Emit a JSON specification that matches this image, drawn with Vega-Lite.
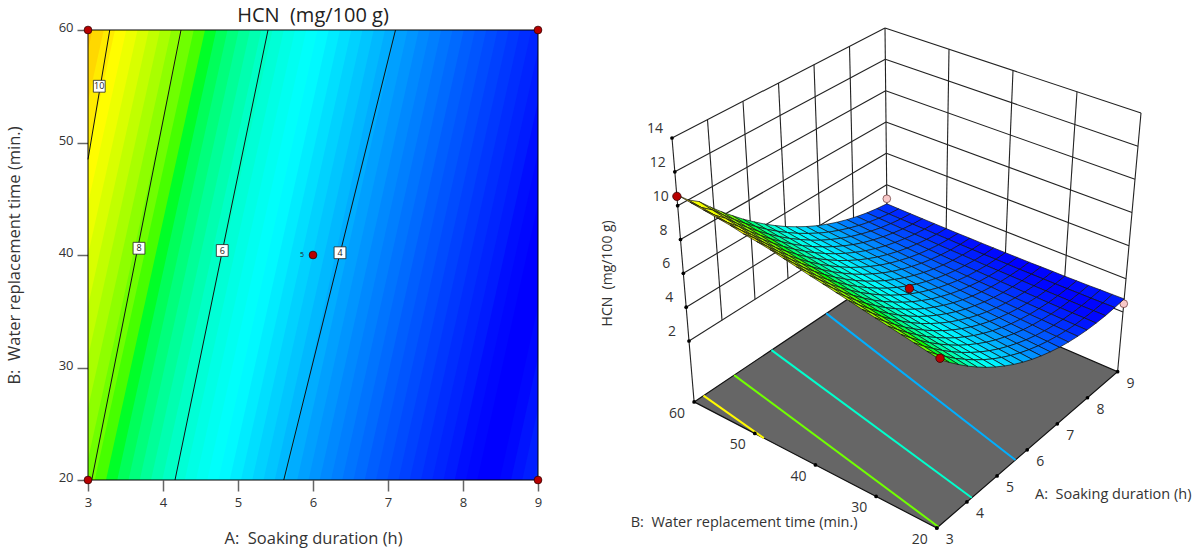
{"$schema":"https://vega.github.io/schema/vega-lite/v6.json","background":"white","padding":{"left":6,"top":5,"right":0,"bottom":0},"bounds":"flush","spacing":62,"config":{"font":"Open Sans","view":{"stroke":null},"axis":{"grid":false}},
"datasets":{"bands":[
{"k":0,"B":20,"A":1.59,"x1":1.77,"H":11.03},{"k":0,"B":60,"A":2.91,"x1":3.09,"H":11.03},
{"k":1,"B":20,"A":1.74,"x1":1.92,"H":10.66},{"k":1,"B":60,"A":3.06,"x1":3.24,"H":10.66},
{"k":2,"B":20,"A":1.89,"x1":2.07,"H":10.29},{"k":2,"B":60,"A":3.21,"x1":3.39,"H":10.29},
{"k":3,"B":20,"A":2.04,"x1":2.22,"H":9.94},{"k":3,"B":60,"A":3.36,"x1":3.54,"H":9.94},
{"k":4,"B":20,"A":2.19,"x1":2.37,"H":9.59},{"k":4,"B":60,"A":3.51,"x1":3.69,"H":9.59},
{"k":5,"B":20,"A":2.34,"x1":2.52,"H":9.26},{"k":5,"B":60,"A":3.66,"x1":3.84,"H":9.26},
{"k":6,"B":20,"A":2.49,"x1":2.67,"H":8.93},{"k":6,"B":60,"A":3.81,"x1":3.99,"H":8.93},
{"k":7,"B":20,"A":2.64,"x1":2.82,"H":8.61},{"k":7,"B":60,"A":3.96,"x1":4.14,"H":8.61},
{"k":8,"B":20,"A":2.79,"x1":2.97,"H":8.29},{"k":8,"B":60,"A":4.11,"x1":4.29,"H":8.29},
{"k":9,"B":20,"A":2.94,"x1":3.12,"H":7.99},{"k":9,"B":60,"A":4.26,"x1":4.44,"H":7.99},
{"k":10,"B":20,"A":3.09,"x1":3.27,"H":7.7},{"k":10,"B":60,"A":4.41,"x1":4.59,"H":7.7},
{"k":11,"B":20,"A":3.24,"x1":3.42,"H":7.41},{"k":11,"B":60,"A":4.56,"x1":4.74,"H":7.41},
{"k":12,"B":20,"A":3.39,"x1":3.57,"H":7.13},{"k":12,"B":60,"A":4.71,"x1":4.89,"H":7.13},
{"k":13,"B":20,"A":3.54,"x1":3.72,"H":6.86},{"k":13,"B":60,"A":4.86,"x1":5.04,"H":6.86},
{"k":14,"B":20,"A":3.69,"x1":3.87,"H":6.6},{"k":14,"B":60,"A":5.01,"x1":5.19,"H":6.6},
{"k":15,"B":20,"A":3.84,"x1":4.02,"H":6.35},{"k":15,"B":60,"A":5.16,"x1":5.34,"H":6.35},
{"k":16,"B":20,"A":3.99,"x1":4.17,"H":6.1},{"k":16,"B":60,"A":5.31,"x1":5.49,"H":6.1},
{"k":17,"B":20,"A":4.14,"x1":4.32,"H":5.87},{"k":17,"B":60,"A":5.46,"x1":5.64,"H":5.87},
{"k":18,"B":20,"A":4.29,"x1":4.47,"H":5.64},{"k":18,"B":60,"A":5.61,"x1":5.79,"H":5.64},
{"k":19,"B":20,"A":4.44,"x1":4.62,"H":5.42},{"k":19,"B":60,"A":5.76,"x1":5.94,"H":5.42},
{"k":20,"B":20,"A":4.59,"x1":4.77,"H":5.21},{"k":20,"B":60,"A":5.91,"x1":6.09,"H":5.21},
{"k":21,"B":20,"A":4.74,"x1":4.92,"H":5.01},{"k":21,"B":60,"A":6.06,"x1":6.24,"H":5.01},
{"k":22,"B":20,"A":4.89,"x1":5.07,"H":4.82},{"k":22,"B":60,"A":6.21,"x1":6.39,"H":4.82},
{"k":23,"B":20,"A":5.04,"x1":5.22,"H":4.63},{"k":23,"B":60,"A":6.36,"x1":6.54,"H":4.63},
{"k":24,"B":20,"A":5.19,"x1":5.37,"H":4.45},{"k":24,"B":60,"A":6.51,"x1":6.69,"H":4.45},
{"k":25,"B":20,"A":5.34,"x1":5.52,"H":4.29},{"k":25,"B":60,"A":6.66,"x1":6.84,"H":4.29},
{"k":26,"B":20,"A":5.49,"x1":5.67,"H":4.13},{"k":26,"B":60,"A":6.81,"x1":6.99,"H":4.13},
{"k":27,"B":20,"A":5.64,"x1":5.82,"H":3.98},{"k":27,"B":60,"A":6.96,"x1":7.14,"H":3.98},
{"k":28,"B":20,"A":5.79,"x1":5.97,"H":3.83},{"k":28,"B":60,"A":7.11,"x1":7.29,"H":3.83},
{"k":29,"B":20,"A":5.94,"x1":6.12,"H":3.7},{"k":29,"B":60,"A":7.26,"x1":7.44,"H":3.7},
{"k":30,"B":20,"A":6.09,"x1":6.27,"H":3.57},{"k":30,"B":60,"A":7.41,"x1":7.59,"H":3.57},
{"k":31,"B":20,"A":6.24,"x1":6.42,"H":3.46},{"k":31,"B":60,"A":7.56,"x1":7.74,"H":3.46},
{"k":32,"B":20,"A":6.39,"x1":6.57,"H":3.35},{"k":32,"B":60,"A":7.71,"x1":7.89,"H":3.35},
{"k":33,"B":20,"A":6.54,"x1":6.72,"H":3.25},{"k":33,"B":60,"A":7.86,"x1":8.04,"H":3.25},
{"k":34,"B":20,"A":6.69,"x1":6.87,"H":3.15},{"k":34,"B":60,"A":8.01,"x1":8.19,"H":3.15},
{"k":35,"B":20,"A":6.84,"x1":7.02,"H":3.07},{"k":35,"B":60,"A":8.16,"x1":8.34,"H":3.07},
{"k":36,"B":20,"A":6.99,"x1":7.17,"H":3.0},{"k":36,"B":60,"A":8.31,"x1":8.49,"H":3.0},
{"k":37,"B":20,"A":7.14,"x1":7.32,"H":2.93},{"k":37,"B":60,"A":8.46,"x1":8.64,"H":2.93},
{"k":38,"B":20,"A":7.29,"x1":7.47,"H":2.87},{"k":38,"B":60,"A":8.61,"x1":8.79,"H":2.87},
{"k":39,"B":20,"A":7.44,"x1":7.62,"H":2.82},{"k":39,"B":60,"A":8.76,"x1":8.94,"H":2.82},
{"k":40,"B":20,"A":7.59,"x1":7.77,"H":2.78},{"k":40,"B":60,"A":8.91,"x1":9.09,"H":2.78},
{"k":41,"B":20,"A":7.74,"x1":7.92,"H":2.75},{"k":41,"B":60,"A":9.06,"x1":9.24,"H":2.75},
{"k":42,"B":20,"A":7.89,"x1":8.07,"H":2.72},{"k":42,"B":60,"A":9.21,"x1":9.39,"H":2.72},
{"k":43,"B":20,"A":8.04,"x1":8.22,"H":2.71},{"k":43,"B":60,"A":9.36,"x1":9.54,"H":2.71},
{"k":44,"B":20,"A":8.19,"x1":8.37,"H":2.7},{"k":44,"B":60,"A":9.51,"x1":9.69,"H":2.7},
{"k":45,"B":20,"A":8.34,"x1":8.52,"H":2.7},{"k":45,"B":60,"A":9.66,"x1":9.84,"H":2.7},
{"k":46,"B":20,"A":8.49,"x1":8.67,"H":2.71},{"k":46,"B":60,"A":9.81,"x1":9.99,"H":2.71},
{"k":47,"B":20,"A":8.64,"x1":8.82,"H":2.73},{"k":47,"B":60,"A":9.96,"x1":10.14,"H":2.73},
{"k":48,"B":20,"A":8.79,"x1":8.97,"H":2.76},{"k":48,"B":60,"A":10.11,"x1":10.29,"H":2.76},
{"k":49,"B":20,"A":8.94,"x1":9.12,"H":2.79},{"k":49,"B":60,"A":10.26,"x1":10.44,"H":2.79}
],
"contours":[
{"L":4,"A":5.61,"B":20,"Z":-1.6},{"L":4,"A":7.1,"B":60,"Z":-1.6},
{"L":6,"A":4.16,"B":20,"Z":-1.6},{"L":6,"A":5.4,"B":60,"Z":-1.6},
{"L":8,"A":3.05,"B":20,"Z":-1.6},{"L":8,"A":4.24,"B":60,"Z":-1.6},
{"L":10,"A":3,"B":48.5,"Z":-1.6},{"L":10,"A":3.29,"B":60,"Z":-1.6}],
"labels":[{"A":3.15,"B":55,"t":"10"},{"A":3.68,"B":40.6,"t":"8"},{"A":4.79,"B":40.4,"t":"6"},{"A":6.36,"B":40.2,"t":"4"}],
"design":[{"s":"p","A":3,"B":60,"Z":10.55},{"s":"p","A":3,"B":20,"Z":8.1},{"s":"p","A":6,"B":40,"Z":4.7},{"s":"q","A":9,"B":60,"Z":3.1},{"s":"q","A":9,"B":20,"Z":2.5}],
"walls":[
{"id":"a","A":3,"B":60,"Z":2},{"id":"a","A":9,"B":60,"Z":2},{"id":"b","A":3,"B":60,"Z":4},{"id":"b","A":9,"B":60,"Z":4},{"id":"c","A":3,"B":60,"Z":6},{"id":"c","A":9,"B":60,"Z":6},{"id":"d","A":3,"B":60,"Z":8},{"id":"d","A":9,"B":60,"Z":8},{"id":"e","A":3,"B":60,"Z":10},{"id":"e","A":9,"B":60,"Z":10},{"id":"f","A":3,"B":60,"Z":12},{"id":"f","A":9,"B":60,"Z":12},{"id":"g","A":3,"B":60,"Z":14},{"id":"g","A":9,"B":60,"Z":14},
{"id":"h","A":3,"B":60,"Z":-1.6},{"id":"h","A":3,"B":60,"Z":14},{"id":"i","A":4,"B":60,"Z":2},{"id":"i","A":4,"B":60,"Z":14},{"id":"j","A":5,"B":60,"Z":2},{"id":"j","A":5,"B":60,"Z":14},{"id":"k","A":6,"B":60,"Z":2},{"id":"k","A":6,"B":60,"Z":14},{"id":"l","A":7,"B":60,"Z":2},{"id":"l","A":7,"B":60,"Z":14},{"id":"m","A":8,"B":60,"Z":2},{"id":"m","A":8,"B":60,"Z":14},{"id":"n","A":9,"B":60,"Z":2},{"id":"n","A":9,"B":60,"Z":14},
{"id":"o","A":9,"B":60,"Z":2},{"id":"o","A":9,"B":20,"Z":2},{"id":"p","A":9,"B":60,"Z":4},{"id":"p","A":9,"B":20,"Z":4},{"id":"q","A":9,"B":60,"Z":6},{"id":"q","A":9,"B":20,"Z":6},{"id":"r","A":9,"B":60,"Z":8},{"id":"r","A":9,"B":20,"Z":8},{"id":"s","A":9,"B":60,"Z":10},{"id":"s","A":9,"B":20,"Z":10},{"id":"t","A":9,"B":60,"Z":12},{"id":"t","A":9,"B":20,"Z":12},{"id":"u","A":9,"B":60,"Z":14},{"id":"u","A":9,"B":20,"Z":14},
{"id":"v","A":9,"B":50,"Z":2},{"id":"v","A":9,"B":50,"Z":14},{"id":"w","A":9,"B":40,"Z":2},{"id":"w","A":9,"B":40,"Z":14},{"id":"x","A":9,"B":30,"Z":2},{"id":"x","A":9,"B":30,"Z":14},{"id":"y","A":9,"B":20,"Z":-1.6},{"id":"y","A":9,"B":20,"Z":14}],
"floor":[{"o":0,"A":3,"B":60,"Z":-1.6},{"o":1,"A":9,"B":60,"Z":-1.6},{"o":2,"A":9,"B":20,"Z":-1.6},{"o":3,"A":3,"B":20,"Z":-1.6},{"o":4,"A":3,"B":60,"Z":-1.6}],
"ticks":[
{"s":"a","t":"3","A":3,"B":20,"Z":-1.6},{"s":"a","t":"4","A":4,"B":20,"Z":-1.6},{"s":"a","t":"5","A":5,"B":20,"Z":-1.6},{"s":"a","t":"6","A":6,"B":20,"Z":-1.6},{"s":"a","t":"7","A":7,"B":20,"Z":-1.6},{"s":"a","t":"8","A":8,"B":20,"Z":-1.6},{"s":"a","t":"9","A":9,"B":20,"Z":-1.6},
{"s":"b","t":"20","A":3,"B":20,"Z":-1.6},{"s":"b","t":"30","A":3,"B":30,"Z":-1.6},{"s":"b","t":"40","A":3,"B":40,"Z":-1.6},{"s":"b","t":"50","A":3,"B":50,"Z":-1.6},{"s":"b","t":"60","A":3,"B":60,"Z":-1.6},
{"s":"z","t":"2","A":3,"B":60,"Z":2},{"s":"z","t":"4","A":3,"B":60,"Z":4},{"s":"z","t":"6","A":3,"B":60,"Z":6},{"s":"z","t":"8","A":3,"B":60,"Z":8},{"s":"z","t":"10","A":3,"B":60,"Z":10},{"s":"z","t":"12","A":3,"B":60,"Z":12},{"s":"z","t":"14","A":3,"B":60,"Z":14}],
"titles":[{"s":"a","t":"A:\u00a0 Soaking duration (h)","A":6,"B":20,"Z":-1.6},{"s":"b","t":"B:\u00a0 Water replacement time (min.)","A":3,"B":30,"Z":-1.6},{"s":"z","t":"HCN\u00a0 (mg/100 g)","A":3,"B":60,"Z":6}],
"grid":[
{"A":9,"B":60,"Z":2.78},{"A":9,"B":58,"Z":2.76},{"A":9,"B":56,"Z":2.75},{"A":9,"B":54,"Z":2.74},{"A":9,"B":52,"Z":2.73},{"A":9,"B":50,"Z":2.72},{"A":9,"B":48,"Z":2.71},{"A":9,"B":46,"Z":2.71},{"A":9,"B":44,"Z":2.7},{"A":9,"B":42,"Z":2.7},{"A":9,"B":40,"Z":2.7},{"A":9,"B":38,"Z":2.7},{"A":9,"B":36,"Z":2.7},{"A":9,"B":34,"Z":2.71},{"A":9,"B":32,"Z":2.72},{"A":9,"B":30,"Z":2.72},{"A":9,"B":28,"Z":2.73},{"A":9,"B":26,"Z":2.74},{"A":9,"B":24,"Z":2.76},{"A":9,"B":22,"Z":2.77},{"A":9,"B":20,"Z":2.79},
{"A":8.7,"B":60,"Z":2.87},{"A":8.7,"B":58,"Z":2.84},{"A":8.7,"B":56,"Z":2.82},{"A":8.7,"B":54,"Z":2.8},{"A":8.7,"B":52,"Z":2.79},{"A":8.7,"B":50,"Z":2.77},{"A":8.7,"B":48,"Z":2.76},{"A":8.7,"B":46,"Z":2.74},{"A":8.7,"B":44,"Z":2.73},{"A":8.7,"B":42,"Z":2.72},{"A":8.7,"B":40,"Z":2.72},{"A":8.7,"B":38,"Z":2.71},{"A":8.7,"B":36,"Z":2.7},{"A":8.7,"B":34,"Z":2.7},{"A":8.7,"B":32,"Z":2.7},{"A":8.7,"B":30,"Z":2.7},{"A":8.7,"B":28,"Z":2.7},{"A":8.7,"B":26,"Z":2.71},{"A":8.7,"B":24,"Z":2.71},{"A":8.7,"B":22,"Z":2.72},{"A":8.7,"B":20,"Z":2.73},
{"A":8.4,"B":60,"Z":2.99},{"A":8.4,"B":58,"Z":2.96},{"A":8.4,"B":56,"Z":2.93},{"A":8.4,"B":54,"Z":2.9},{"A":8.4,"B":52,"Z":2.88},{"A":8.4,"B":50,"Z":2.86},{"A":8.4,"B":48,"Z":2.83},{"A":8.4,"B":46,"Z":2.81},{"A":8.4,"B":44,"Z":2.8},{"A":8.4,"B":42,"Z":2.78},{"A":8.4,"B":40,"Z":2.76},{"A":8.4,"B":38,"Z":2.75},{"A":8.4,"B":36,"Z":2.74},{"A":8.4,"B":34,"Z":2.73},{"A":8.4,"B":32,"Z":2.72},{"A":8.4,"B":30,"Z":2.71},{"A":8.4,"B":28,"Z":2.71},{"A":8.4,"B":26,"Z":2.7},{"A":8.4,"B":24,"Z":2.7},{"A":8.4,"B":22,"Z":2.7},{"A":8.4,"B":20,"Z":2.7},
{"A":8.1,"B":60,"Z":3.15},{"A":8.1,"B":58,"Z":3.11},{"A":8.1,"B":56,"Z":3.07},{"A":8.1,"B":54,"Z":3.04},{"A":8.1,"B":52,"Z":3.01},{"A":8.1,"B":50,"Z":2.98},{"A":8.1,"B":48,"Z":2.95},{"A":8.1,"B":46,"Z":2.92},{"A":8.1,"B":44,"Z":2.89},{"A":8.1,"B":42,"Z":2.87},{"A":8.1,"B":40,"Z":2.85},{"A":8.1,"B":38,"Z":2.83},{"A":8.1,"B":36,"Z":2.81},{"A":8.1,"B":34,"Z":2.79},{"A":8.1,"B":32,"Z":2.77},{"A":8.1,"B":30,"Z":2.76},{"A":8.1,"B":28,"Z":2.74},{"A":8.1,"B":26,"Z":2.73},{"A":8.1,"B":24,"Z":2.72},{"A":8.1,"B":22,"Z":2.72},{"A":8.1,"B":20,"Z":2.71},
{"A":7.8,"B":60,"Z":3.34},{"A":7.8,"B":58,"Z":3.29},{"A":7.8,"B":56,"Z":3.25},{"A":7.8,"B":54,"Z":3.21},{"A":7.8,"B":52,"Z":3.17},{"A":7.8,"B":50,"Z":3.13},{"A":7.8,"B":48,"Z":3.09},{"A":7.8,"B":46,"Z":3.06},{"A":7.8,"B":44,"Z":3.02},{"A":7.8,"B":42,"Z":2.99},{"A":7.8,"B":40,"Z":2.96},{"A":7.8,"B":38,"Z":2.93},{"A":7.8,"B":36,"Z":2.91},{"A":7.8,"B":34,"Z":2.88},{"A":7.8,"B":32,"Z":2.86},{"A":7.8,"B":30,"Z":2.84},{"A":7.8,"B":28,"Z":2.82},{"A":7.8,"B":26,"Z":2.8},{"A":7.8,"B":24,"Z":2.78},{"A":7.8,"B":22,"Z":2.76},{"A":7.8,"B":20,"Z":2.75},
{"A":7.5,"B":60,"Z":3.56},{"A":7.5,"B":58,"Z":3.51},{"A":7.5,"B":56,"Z":3.46},{"A":7.5,"B":54,"Z":3.41},{"A":7.5,"B":52,"Z":3.36},{"A":7.5,"B":50,"Z":3.32},{"A":7.5,"B":48,"Z":3.27},{"A":7.5,"B":46,"Z":3.23},{"A":7.5,"B":44,"Z":3.19},{"A":7.5,"B":42,"Z":3.15},{"A":7.5,"B":40,"Z":3.11},{"A":7.5,"B":38,"Z":3.08},{"A":7.5,"B":36,"Z":3.04},{"A":7.5,"B":34,"Z":3.01},{"A":7.5,"B":32,"Z":2.98},{"A":7.5,"B":30,"Z":2.95},{"A":7.5,"B":28,"Z":2.92},{"A":7.5,"B":26,"Z":2.9},{"A":7.5,"B":24,"Z":2.87},{"A":7.5,"B":22,"Z":2.85},{"A":7.5,"B":20,"Z":2.83},
{"A":7.2,"B":60,"Z":3.82},{"A":7.2,"B":58,"Z":3.76},{"A":7.2,"B":56,"Z":3.7},{"A":7.2,"B":54,"Z":3.64},{"A":7.2,"B":52,"Z":3.59},{"A":7.2,"B":50,"Z":3.54},{"A":7.2,"B":48,"Z":3.49},{"A":7.2,"B":46,"Z":3.44},{"A":7.2,"B":44,"Z":3.39},{"A":7.2,"B":42,"Z":3.34},{"A":7.2,"B":40,"Z":3.3},{"A":7.2,"B":38,"Z":3.25},{"A":7.2,"B":36,"Z":3.21},{"A":7.2,"B":34,"Z":3.17},{"A":7.2,"B":32,"Z":3.13},{"A":7.2,"B":30,"Z":3.1},{"A":7.2,"B":28,"Z":3.06},{"A":7.2,"B":26,"Z":3.03},{"A":7.2,"B":24,"Z":2.99},{"A":7.2,"B":22,"Z":2.97},{"A":7.2,"B":20,"Z":2.94},
{"A":6.9,"B":60,"Z":4.11},{"A":6.9,"B":58,"Z":4.04},{"A":6.9,"B":56,"Z":3.98},{"A":6.9,"B":54,"Z":3.91},{"A":6.9,"B":52,"Z":3.85},{"A":6.9,"B":50,"Z":3.79},{"A":6.9,"B":48,"Z":3.73},{"A":6.9,"B":46,"Z":3.68},{"A":6.9,"B":44,"Z":3.62},{"A":6.9,"B":42,"Z":3.57},{"A":6.9,"B":40,"Z":3.51},{"A":6.9,"B":38,"Z":3.46},{"A":6.9,"B":36,"Z":3.41},{"A":6.9,"B":34,"Z":3.37},{"A":6.9,"B":32,"Z":3.32},{"A":6.9,"B":30,"Z":3.28},{"A":6.9,"B":28,"Z":3.23},{"A":6.9,"B":26,"Z":3.19},{"A":6.9,"B":24,"Z":3.15},{"A":6.9,"B":22,"Z":3.12},{"A":6.9,"B":20,"Z":3.08},
{"A":6.6,"B":60,"Z":4.44},{"A":6.6,"B":58,"Z":4.36},{"A":6.6,"B":56,"Z":4.29},{"A":6.6,"B":54,"Z":4.22},{"A":6.6,"B":52,"Z":4.15},{"A":6.6,"B":50,"Z":4.08},{"A":6.6,"B":48,"Z":4.01},{"A":6.6,"B":46,"Z":3.95},{"A":6.6,"B":44,"Z":3.89},{"A":6.6,"B":42,"Z":3.82},{"A":6.6,"B":40,"Z":3.77},{"A":6.6,"B":38,"Z":3.71},{"A":6.6,"B":36,"Z":3.65},{"A":6.6,"B":34,"Z":3.59},{"A":6.6,"B":32,"Z":3.54},{"A":6.6,"B":30,"Z":3.49},{"A":6.6,"B":28,"Z":3.44},{"A":6.6,"B":26,"Z":3.39},{"A":6.6,"B":24,"Z":3.34},{"A":6.6,"B":22,"Z":3.3},{"A":6.6,"B":20,"Z":3.26},
{"A":6.3,"B":60,"Z":4.8},{"A":6.3,"B":58,"Z":4.72},{"A":6.3,"B":56,"Z":4.63},{"A":6.3,"B":54,"Z":4.56},{"A":6.3,"B":52,"Z":4.48},{"A":6.3,"B":50,"Z":4.4},{"A":6.3,"B":48,"Z":4.33},{"A":6.3,"B":46,"Z":4.26},{"A":6.3,"B":44,"Z":4.19},{"A":6.3,"B":42,"Z":4.12},{"A":6.3,"B":40,"Z":4.05},{"A":6.3,"B":38,"Z":3.98},{"A":6.3,"B":36,"Z":3.92},{"A":6.3,"B":34,"Z":3.86},{"A":6.3,"B":32,"Z":3.8},{"A":6.3,"B":30,"Z":3.74},{"A":6.3,"B":28,"Z":3.68},{"A":6.3,"B":26,"Z":3.63},{"A":6.3,"B":24,"Z":3.57},{"A":6.3,"B":22,"Z":3.52},{"A":6.3,"B":20,"Z":3.47},
{"A":6,"B":60,"Z":5.19},{"A":6,"B":58,"Z":5.1},{"A":6,"B":56,"Z":5.01},{"A":6,"B":54,"Z":4.93},{"A":6,"B":52,"Z":4.84},{"A":6,"B":50,"Z":4.76},{"A":6,"B":48,"Z":4.68},{"A":6,"B":46,"Z":4.6},{"A":6,"B":44,"Z":4.52},{"A":6,"B":42,"Z":4.44},{"A":6,"B":40,"Z":4.37},{"A":6,"B":38,"Z":4.3},{"A":6,"B":36,"Z":4.23},{"A":6,"B":34,"Z":4.16},{"A":6,"B":32,"Z":4.09},{"A":6,"B":30,"Z":4.02},{"A":6,"B":28,"Z":3.96},{"A":6,"B":26,"Z":3.89},{"A":6,"B":24,"Z":3.83},{"A":6,"B":22,"Z":3.77},{"A":6,"B":20,"Z":3.71},
{"A":5.7,"B":60,"Z":5.62},{"A":5.7,"B":58,"Z":5.52},{"A":5.7,"B":56,"Z":5.43},{"A":5.7,"B":54,"Z":5.33},{"A":5.7,"B":52,"Z":5.24},{"A":5.7,"B":50,"Z":5.15},{"A":5.7,"B":48,"Z":5.06},{"A":5.7,"B":46,"Z":4.97},{"A":5.7,"B":44,"Z":4.89},{"A":5.7,"B":42,"Z":4.8},{"A":5.7,"B":40,"Z":4.72},{"A":5.7,"B":38,"Z":4.64},{"A":5.7,"B":36,"Z":4.56},{"A":5.7,"B":34,"Z":4.49},{"A":5.7,"B":32,"Z":4.41},{"A":5.7,"B":30,"Z":4.34},{"A":5.7,"B":28,"Z":4.26},{"A":5.7,"B":26,"Z":4.19},{"A":5.7,"B":24,"Z":4.12},{"A":5.7,"B":22,"Z":4.06},{"A":5.7,"B":20,"Z":3.99},
{"A":5.4,"B":60,"Z":6.08},{"A":5.4,"B":58,"Z":5.98},{"A":5.4,"B":56,"Z":5.87},{"A":5.4,"B":54,"Z":5.77},{"A":5.4,"B":52,"Z":5.67},{"A":5.4,"B":50,"Z":5.57},{"A":5.4,"B":48,"Z":5.48},{"A":5.4,"B":46,"Z":5.38},{"A":5.4,"B":44,"Z":5.29},{"A":5.4,"B":42,"Z":5.2},{"A":5.4,"B":40,"Z":5.11},{"A":5.4,"B":38,"Z":5.02},{"A":5.4,"B":36,"Z":4.94},{"A":5.4,"B":34,"Z":4.85},{"A":5.4,"B":32,"Z":4.77},{"A":5.4,"B":30,"Z":4.69},{"A":5.4,"B":28,"Z":4.61},{"A":5.4,"B":26,"Z":4.53},{"A":5.4,"B":24,"Z":4.45},{"A":5.4,"B":22,"Z":4.38},{"A":5.4,"B":20,"Z":4.3},
{"A":5.1,"B":60,"Z":6.58},{"A":5.1,"B":58,"Z":6.46},{"A":5.1,"B":56,"Z":6.35},{"A":5.1,"B":54,"Z":6.24},{"A":5.1,"B":52,"Z":6.14},{"A":5.1,"B":50,"Z":6.03},{"A":5.1,"B":48,"Z":5.93},{"A":5.1,"B":46,"Z":5.83},{"A":5.1,"B":44,"Z":5.73},{"A":5.1,"B":42,"Z":5.63},{"A":5.1,"B":40,"Z":5.53},{"A":5.1,"B":38,"Z":5.44},{"A":5.1,"B":36,"Z":5.34},{"A":5.1,"B":34,"Z":5.25},{"A":5.1,"B":32,"Z":5.16},{"A":5.1,"B":30,"Z":5.07},{"A":5.1,"B":28,"Z":4.98},{"A":5.1,"B":26,"Z":4.9},{"A":5.1,"B":24,"Z":4.81},{"A":5.1,"B":22,"Z":4.73},{"A":5.1,"B":20,"Z":4.65},
{"A":4.8,"B":60,"Z":7.1},{"A":4.8,"B":58,"Z":6.99},{"A":4.8,"B":56,"Z":6.87},{"A":4.8,"B":54,"Z":6.75},{"A":4.8,"B":52,"Z":6.64},{"A":4.8,"B":50,"Z":6.52},{"A":4.8,"B":48,"Z":6.41},{"A":4.8,"B":46,"Z":6.3},{"A":4.8,"B":44,"Z":6.2},{"A":4.8,"B":42,"Z":6.09},{"A":4.8,"B":40,"Z":5.99},{"A":4.8,"B":38,"Z":5.88},{"A":4.8,"B":36,"Z":5.78},{"A":4.8,"B":34,"Z":5.68},{"A":4.8,"B":32,"Z":5.58},{"A":4.8,"B":30,"Z":5.49},{"A":4.8,"B":28,"Z":5.39},{"A":4.8,"B":26,"Z":5.3},{"A":4.8,"B":24,"Z":5.21},{"A":4.8,"B":22,"Z":5.12},{"A":4.8,"B":20,"Z":5.03},
{"A":4.5,"B":60,"Z":7.67},{"A":4.5,"B":58,"Z":7.54},{"A":4.5,"B":56,"Z":7.42},{"A":4.5,"B":54,"Z":7.29},{"A":4.5,"B":52,"Z":7.17},{"A":4.5,"B":50,"Z":7.05},{"A":4.5,"B":48,"Z":6.93},{"A":4.5,"B":46,"Z":6.81},{"A":4.5,"B":44,"Z":6.7},{"A":4.5,"B":42,"Z":6.59},{"A":4.5,"B":40,"Z":6.47},{"A":4.5,"B":38,"Z":6.36},{"A":4.5,"B":36,"Z":6.25},{"A":4.5,"B":34,"Z":6.15},{"A":4.5,"B":32,"Z":6.04},{"A":4.5,"B":30,"Z":5.94},{"A":4.5,"B":28,"Z":5.84},{"A":4.5,"B":26,"Z":5.74},{"A":4.5,"B":24,"Z":5.64},{"A":4.5,"B":22,"Z":5.54},{"A":4.5,"B":20,"Z":5.44},
{"A":4.2,"B":60,"Z":8.26},{"A":4.2,"B":58,"Z":8.13},{"A":4.2,"B":56,"Z":8.0},{"A":4.2,"B":54,"Z":7.87},{"A":4.2,"B":52,"Z":7.74},{"A":4.2,"B":50,"Z":7.61},{"A":4.2,"B":48,"Z":7.48},{"A":4.2,"B":46,"Z":7.36},{"A":4.2,"B":44,"Z":7.24},{"A":4.2,"B":42,"Z":7.12},{"A":4.2,"B":40,"Z":7.0},{"A":4.2,"B":38,"Z":6.88},{"A":4.2,"B":36,"Z":6.76},{"A":4.2,"B":34,"Z":6.65},{"A":4.2,"B":32,"Z":6.54},{"A":4.2,"B":30,"Z":6.42},{"A":4.2,"B":28,"Z":6.31},{"A":4.2,"B":26,"Z":6.21},{"A":4.2,"B":24,"Z":6.1},{"A":4.2,"B":22,"Z":6.0},{"A":4.2,"B":20,"Z":5.89},
{"A":3.9,"B":60,"Z":8.89},{"A":3.9,"B":58,"Z":8.75},{"A":3.9,"B":56,"Z":8.61},{"A":3.9,"B":54,"Z":8.47},{"A":3.9,"B":52,"Z":8.34},{"A":3.9,"B":50,"Z":8.2},{"A":3.9,"B":48,"Z":8.07},{"A":3.9,"B":46,"Z":7.94},{"A":3.9,"B":44,"Z":7.81},{"A":3.9,"B":42,"Z":7.68},{"A":3.9,"B":40,"Z":7.55},{"A":3.9,"B":38,"Z":7.43},{"A":3.9,"B":36,"Z":7.3},{"A":3.9,"B":34,"Z":7.18},{"A":3.9,"B":32,"Z":7.06},{"A":3.9,"B":30,"Z":6.94},{"A":3.9,"B":28,"Z":6.83},{"A":3.9,"B":26,"Z":6.71},{"A":3.9,"B":24,"Z":6.6},{"A":3.9,"B":22,"Z":6.48},{"A":3.9,"B":20,"Z":6.37},
{"A":3.6,"B":60,"Z":9.56},{"A":3.6,"B":58,"Z":9.41},{"A":3.6,"B":56,"Z":9.26},{"A":3.6,"B":54,"Z":9.12},{"A":3.6,"B":52,"Z":8.97},{"A":3.6,"B":50,"Z":8.83},{"A":3.6,"B":48,"Z":8.69},{"A":3.6,"B":46,"Z":8.55},{"A":3.6,"B":44,"Z":8.41},{"A":3.6,"B":42,"Z":8.28},{"A":3.6,"B":40,"Z":8.14},{"A":3.6,"B":38,"Z":8.01},{"A":3.6,"B":36,"Z":7.88},{"A":3.6,"B":34,"Z":7.75},{"A":3.6,"B":32,"Z":7.62},{"A":3.6,"B":30,"Z":7.5},{"A":3.6,"B":28,"Z":7.37},{"A":3.6,"B":26,"Z":7.25},{"A":3.6,"B":24,"Z":7.13},{"A":3.6,"B":22,"Z":7.01},{"A":3.6,"B":20,"Z":6.89},
{"A":3.3,"B":60,"Z":10.0},{"A":3.3,"B":58,"Z":9.9},{"A":3.3,"B":56,"Z":9.8},{"A":3.3,"B":54,"Z":9.7},{"A":3.3,"B":52,"Z":9.6},{"A":3.3,"B":50,"Z":9.49},{"A":3.3,"B":48,"Z":9.34},{"A":3.3,"B":46,"Z":9.2},{"A":3.3,"B":44,"Z":9.05},{"A":3.3,"B":42,"Z":8.91},{"A":3.3,"B":40,"Z":8.77},{"A":3.3,"B":38,"Z":8.63},{"A":3.3,"B":36,"Z":8.49},{"A":3.3,"B":34,"Z":8.35},{"A":3.3,"B":32,"Z":8.22},{"A":3.3,"B":30,"Z":8.08},{"A":3.3,"B":28,"Z":7.95},{"A":3.3,"B":26,"Z":7.82},{"A":3.3,"B":24,"Z":7.69},{"A":3.3,"B":22,"Z":7.56},{"A":3.3,"B":20,"Z":7.44},
{"A":3,"B":60,"Z":10.65},{"A":3,"B":58,"Z":10.55},{"A":3,"B":56,"Z":10.45},{"A":3,"B":54,"Z":10.35},{"A":3,"B":52,"Z":10.25},{"A":3,"B":50,"Z":10.1},{"A":3,"B":48,"Z":10.0},{"A":3,"B":46,"Z":9.88},{"A":3,"B":44,"Z":9.72},{"A":3,"B":42,"Z":9.57},{"A":3,"B":40,"Z":9.42},{"A":3,"B":38,"Z":9.28},{"A":3,"B":36,"Z":9.13},{"A":3,"B":34,"Z":8.99},{"A":3,"B":32,"Z":8.84},{"A":3,"B":30,"Z":8.7},{"A":3,"B":28,"Z":8.56},{"A":3,"B":26,"Z":8.43},{"A":3,"B":24,"Z":8.29},{"A":3,"B":22,"Z":8.15},{"A":3,"B":20,"Z":8.02}
]},
"hconcat":[
{"width":450,"height":450,"title":{"text":"HCN\u00a0 (mg/100 g)","fontSize":20,"fontWeight":"normal","font":"Open Sans","color":"#222","offset":-4},
"encoding":{
"x":{"field":"A","type":"quantitative","scale":{"domain":[3,9],"nice":false},"axis":{"title":"A:\u00a0 Soaking duration (h)","titleFontSize":16.5,"titleFontWeight":"normal","titleColor":"#333","titlePadding":21,"values":[3,4,5,6,7,8,9],"format":"d","labelFontSize":13,"labelColor":"#333","labelFlush":false,"tickSize":11,"tickColor":"#666","tickWidth":1.5,"labelPadding":5,"domain":false}},
"y":{"field":"B","type":"quantitative","scale":{"domain":[20,60],"nice":false},"axis":{"title":"B:\u00a0 Water replacement time (min.)","titleFontSize":16.5,"titleFontWeight":"normal","titleColor":"#333","titlePadding":36,"values":[20,30,40,50,60],"labelFontSize":13,"labelColor":"#333","labelFlush":false,"labelOffset":-2.5,"tickSize":11,"tickColor":"#666","tickWidth":1.5,"labelPadding":4,"domain":false}}},
"layer":[
{"data":{"name":"bands"},"mark":{"type":"area","orient":"horizontal","clip":true},"encoding":{
"x2":{"field":"x1"},
"detail":{"field":"k"},
"fill":{"field":"H","type":"quantitative","legend":null,"scale":{"domain":[2.7,5.1,7.5,9.9,13.5],"range":["#0000ff","#00ffff","#00ff00","#ffff00","#ff0000"]}}}},
{"data":{"name":"contours"},"mark":{"type":"line","stroke":"#111","strokeWidth":1},"encoding":{"detail":{"field":"L"},"order":{"field":"B"}}},
{"data":{"values":[{"A":3,"B":20,"C":9,"D":60}]},"mark":{"type":"rect","fill":null,"stroke":"#000","strokeWidth":1},"encoding":{"x2":{"field":"C"},"y2":{"field":"D"}}},
{"data":{"name":"labels"},"mark":{"type":"square","filled":true,"fill":"white","stroke":"#222","strokeWidth":0.8,"size":140,"opacity":1}},
{"data":{"name":"labels"},"mark":{"type":"text","fontSize":9,"color":"#222"},"encoding":{"text":{"field":"t"}}},
{"data":{"values":[{"A":3,"B":60},{"A":9,"B":60},{"A":3,"B":20},{"A":9,"B":20},{"A":6,"B":40}]},"mark":{"type":"circle","size":60,"fill":"#b80000","stroke":"#300","strokeWidth":0.8,"opacity":1,"clip":false}},
{"data":{"values":[{"A":6,"B":40,"t":"5"}]},"mark":{"type":"text","fontSize":7,"dx":-11,"color":"#222"},"encoding":{"text":{"field":"t"}}}
]},
{"width":603,"height":521,
"layer":[
{"data":{"name":"walls"},"transform":[{"calculate":"(datum.A-3)/6","as":"u"},{"calculate":"(60-datum.B)/40","as":"v"},{"calculate":"(datum.Z-2)/12","as":"w"},{"calculate":"689+198*datum.u+249*datum.v-17*datum.w-13*datum.u*datum.v+15*datum.u*datum.w+21*datum.v*datum.w-datum.u*datum.v*datum.w","as":"px"},{"calculate":"341-125*datum.u+124*datum.v-203*datum.w-28*datum.u*datum.v+15*datum.u*datum.w-7*datum.v*datum.w-4*datum.u*datum.v*datum.w","as":"py"}],
"mark":{"type":"line","stroke":"#222","strokeWidth":1.1},"encoding":{"x":{"field":"px","type":"quantitative","axis":null,"scale":{"domain":[600,1203],"nice":false,"zero":false}},"y":{"field":"py","type":"quantitative","axis":null,"scale":{"domain":[551,30],"nice":false,"zero":false}},"detail":{"field":"id"},"order":{"field":"Z"}}},
{"data":{"name":"floor"},"transform":[{"calculate":"(datum.A-3)/6","as":"u"},{"calculate":"(60-datum.B)/40","as":"v"},{"calculate":"(datum.Z-2)/12","as":"w"},{"calculate":"689+198*datum.u+249*datum.v-17*datum.w-13*datum.u*datum.v+15*datum.u*datum.w+21*datum.v*datum.w-datum.u*datum.v*datum.w","as":"px"},{"calculate":"341-125*datum.u+124*datum.v-203*datum.w-28*datum.u*datum.v+15*datum.u*datum.w-7*datum.v*datum.w-4*datum.u*datum.v*datum.w","as":"py"}],
"mark":{"type":"line","fill":"#666666","stroke":"#111","strokeWidth":1.2},"encoding":{"x":{"field":"px","type":"quantitative","axis":null},"y":{"field":"py","type":"quantitative","axis":null},"order":{"field":"o"}}},
{"data":{"name":"contours"},"transform":[{"calculate":"(datum.A-3)/6","as":"u"},{"calculate":"(60-datum.B)/40","as":"v"},{"calculate":"(datum.Z-2)/12","as":"w"},{"calculate":"689+198*datum.u+249*datum.v-17*datum.w-13*datum.u*datum.v+15*datum.u*datum.w+21*datum.v*datum.w-datum.u*datum.v*datum.w","as":"px"},{"calculate":"341-125*datum.u+124*datum.v-203*datum.w-28*datum.u*datum.v+15*datum.u*datum.w-7*datum.v*datum.w-4*datum.u*datum.v*datum.w","as":"py"}],
"mark":{"type":"line","strokeWidth":2},"encoding":{"x":{"field":"px","type":"quantitative","axis":null},"y":{"field":"py","type":"quantitative","axis":null},"order":{"field":"B"},"detail":{"field":"L"},"stroke":{"field":"L","type":"quantitative","legend":null,"scale":{"domain":[2.7,5.1,7.5,9.9,13.5],"range":["#0000ff","#00ffff","#00ff00","#ffff00","#ff0000"]}}}},
{"data":{"name":"ticks"},"transform":[{"calculate":"(datum.A-3)/6","as":"u"},{"calculate":"(60-datum.B)/40","as":"v"},{"calculate":"(datum.Z-2)/12","as":"w"},{"calculate":"689+198*datum.u+249*datum.v-17*datum.w-13*datum.u*datum.v+15*datum.u*datum.w+21*datum.v*datum.w-datum.u*datum.v*datum.w","as":"px"},{"calculate":"341-125*datum.u+124*datum.v-203*datum.w-28*datum.u*datum.v+15*datum.u*datum.w-7*datum.v*datum.w-4*datum.u*datum.v*datum.w","as":"py"}],
"mark":{"type":"circle","size":14,"color":"#000","opacity":1},"encoding":{"x":{"field":"px","type":"quantitative","axis":null},"y":{"field":"py","type":"quantitative","axis":null}}},
{"data":{"name":"ticks"},"transform":[{"filter":"datum.s=='a'"},{"calculate":"(datum.A-3)/6","as":"u"},{"calculate":"(60-datum.B)/40","as":"v"},{"calculate":"(datum.Z-2)/12","as":"w"},{"calculate":"689+198*datum.u+249*datum.v-17*datum.w-13*datum.u*datum.v+15*datum.u*datum.w+21*datum.v*datum.w-datum.u*datum.v*datum.w","as":"px"},{"calculate":"341-125*datum.u+124*datum.v-203*datum.w-28*datum.u*datum.v+15*datum.u*datum.w-7*datum.v*datum.w-4*datum.u*datum.v*datum.w","as":"py"}],
"mark":{"type":"text","fontSize":14,"dx":13,"dy":12,"color":"#333"},"encoding":{"x":{"field":"px","type":"quantitative","axis":null},"y":{"field":"py","type":"quantitative","axis":null},"text":{"field":"t"}}},
{"data":{"name":"ticks"},"transform":[{"filter":"datum.s=='b'"},{"calculate":"(datum.A-3)/6","as":"u"},{"calculate":"(60-datum.B)/40","as":"v"},{"calculate":"(datum.Z-2)/12","as":"w"},{"calculate":"689+198*datum.u+249*datum.v-17*datum.w-13*datum.u*datum.v+15*datum.u*datum.w+21*datum.v*datum.w-datum.u*datum.v*datum.w","as":"px"},{"calculate":"341-125*datum.u+124*datum.v-203*datum.w-28*datum.u*datum.v+15*datum.u*datum.w-7*datum.v*datum.w-4*datum.u*datum.v*datum.w","as":"py"}],
"mark":{"type":"text","fontSize":14,"dx":-17,"dy":12,"color":"#333"},"encoding":{"x":{"field":"px","type":"quantitative","axis":null},"y":{"field":"py","type":"quantitative","axis":null},"text":{"field":"t"}}},
{"data":{"name":"ticks"},"transform":[{"filter":"datum.s=='z'"},{"calculate":"(datum.A-3)/6","as":"u"},{"calculate":"(60-datum.B)/40","as":"v"},{"calculate":"(datum.Z-2)/12","as":"w"},{"calculate":"689+198*datum.u+249*datum.v-17*datum.w-13*datum.u*datum.v+15*datum.u*datum.w+21*datum.v*datum.w-datum.u*datum.v*datum.w","as":"px"},{"calculate":"341-125*datum.u+124*datum.v-203*datum.w-28*datum.u*datum.v+15*datum.u*datum.w-7*datum.v*datum.w-4*datum.u*datum.v*datum.w","as":"py"}],
"mark":{"type":"text","fontSize":14,"dx":-17,"dy":-9,"color":"#333"},"encoding":{"x":{"field":"px","type":"quantitative","axis":null},"y":{"field":"py","type":"quantitative","axis":null},"text":{"field":"t"}}},
{"data":{"name":"design"},"transform":[{"filter":"datum.s=='q'"},{"calculate":"(datum.A-3)/6","as":"u"},{"calculate":"(60-datum.B)/40","as":"v"},{"calculate":"(datum.Z-2)/12","as":"w"},{"calculate":"689+198*datum.u+249*datum.v-17*datum.w-13*datum.u*datum.v+15*datum.u*datum.w+21*datum.v*datum.w-datum.u*datum.v*datum.w","as":"px"},{"calculate":"341-125*datum.u+124*datum.v-203*datum.w-28*datum.u*datum.v+15*datum.u*datum.w-7*datum.v*datum.w-4*datum.u*datum.v*datum.w","as":"py"}],
"mark":{"type":"circle","size":60,"fill":"#f8c8c8","stroke":"#633","strokeWidth":0.7,"opacity":1},"encoding":{"x":{"field":"px","type":"quantitative","axis":null},"y":{"field":"py","type":"quantitative","axis":null}}},
{"data":{"name":"grid"},"transform":[{"calculate":"[0,1,2,3,4]","as":"k"},{"flatten":["k"]},{"calculate":"round((datum.A-3)/0.3)-((datum.k==1||datum.k==2)?1:0)","as":"ci"},{"calculate":"round((datum.B-20)/2)-((datum.k==2||datum.k==3)?1:0)","as":"cj"},{"filter":"datum.ci>=0&&datum.ci<20&&datum.cj>=0&&datum.cj<20"},{"calculate":"datum.ci*100+datum.cj","as":"cell"},{"joinaggregate":[{"op":"mean","field":"Z","as":"m"}],"groupby":["cell"]},{"calculate":"(datum.A-3)/6","as":"u"},{"calculate":"(60-datum.B)/40","as":"v"},{"calculate":"(datum.Z-2)/12","as":"w"},{"calculate":"689+198*datum.u+249*datum.v-17*datum.w-13*datum.u*datum.v+15*datum.u*datum.w+21*datum.v*datum.w-datum.u*datum.v*datum.w","as":"px"},{"calculate":"341-125*datum.u+124*datum.v-203*datum.w-28*datum.u*datum.v+15*datum.u*datum.w-7*datum.v*datum.w-4*datum.u*datum.v*datum.w","as":"py"}],
"mark":{"type":"line","stroke":"#111","strokeWidth":0.7},"encoding":{"x":{"field":"px","type":"quantitative","axis":null},"y":{"field":"py","type":"quantitative","axis":null},"detail":{"field":"cell"},"order":{"field":"k"},"fill":{"field":"m","type":"quantitative","legend":null,"scale":{"domain":[2.7,5.1,7.5,9.9,13.5],"range":["#0000ff","#00ffff","#00ff00","#ffff00","#ff0000"]}}}},
{"data":{"name":"design"},"transform":[{"filter":"datum.s=='p'"},{"calculate":"(datum.A-3)/6","as":"u"},{"calculate":"(60-datum.B)/40","as":"v"},{"calculate":"(datum.Z-2)/12","as":"w"},{"calculate":"689+198*datum.u+249*datum.v-17*datum.w-13*datum.u*datum.v+15*datum.u*datum.w+21*datum.v*datum.w-datum.u*datum.v*datum.w","as":"px"},{"calculate":"341-125*datum.u+124*datum.v-203*datum.w-28*datum.u*datum.v+15*datum.u*datum.w-7*datum.v*datum.w-4*datum.u*datum.v*datum.w","as":"py"}],
"mark":{"type":"circle","size":70,"fill":"#b80000","stroke":"#300","strokeWidth":0.8,"opacity":1},"encoding":{"x":{"field":"px","type":"quantitative","axis":null},"y":{"field":"py","type":"quantitative","axis":null}}},
{"data":{"name":"titles"},"transform":[{"filter":"datum.s=='a'"},{"calculate":"(datum.A-3)/6","as":"u"},{"calculate":"(60-datum.B)/40","as":"v"},{"calculate":"(datum.Z-2)/12","as":"w"},{"calculate":"689+198*datum.u+249*datum.v-17*datum.w-13*datum.u*datum.v+15*datum.u*datum.w+21*datum.v*datum.w-datum.u*datum.v*datum.w","as":"px"},{"calculate":"341-125*datum.u+124*datum.v-203*datum.w-28*datum.u*datum.v+15*datum.u*datum.w-7*datum.v*datum.w-4*datum.u*datum.v*datum.w","as":"py"}],
"mark":{"type":"text","fontSize":14.5,"dx":86,"dy":45,"color":"#333"},"encoding":{"x":{"field":"px","type":"quantitative","axis":null},"y":{"field":"py","type":"quantitative","axis":null},"text":{"field":"t"}}},
{"data":{"name":"titles"},"transform":[{"filter":"datum.s=='b'"},{"calculate":"(datum.A-3)/6","as":"u"},{"calculate":"(60-datum.B)/40","as":"v"},{"calculate":"(datum.Z-2)/12","as":"w"},{"calculate":"689+198*datum.u+249*datum.v-17*datum.w-13*datum.u*datum.v+15*datum.u*datum.w+21*datum.v*datum.w-datum.u*datum.v*datum.w","as":"px"},{"calculate":"341-125*datum.u+124*datum.v-203*datum.w-28*datum.u*datum.v+15*datum.u*datum.w-7*datum.v*datum.w-4*datum.u*datum.v*datum.w","as":"py"}],
"mark":{"type":"text","fontSize":14.5,"dx":-132,"dy":27,"color":"#333"},"encoding":{"x":{"field":"px","type":"quantitative","axis":null},"y":{"field":"py","type":"quantitative","axis":null},"text":{"field":"t"}}},
{"data":{"name":"titles"},"transform":[{"filter":"datum.s=='z'"},{"calculate":"(datum.A-3)/6","as":"u"},{"calculate":"(60-datum.B)/40","as":"v"},{"calculate":"(datum.Z-2)/12","as":"w"},{"calculate":"689+198*datum.u+249*datum.v-17*datum.w-13*datum.u*datum.v+15*datum.u*datum.w+21*datum.v*datum.w-datum.u*datum.v*datum.w","as":"px"},{"calculate":"341-125*datum.u+124*datum.v-203*datum.w-28*datum.u*datum.v+15*datum.u*datum.w-7*datum.v*datum.w-4*datum.u*datum.v*datum.w","as":"py"}],
"mark":{"type":"text","fontSize":14,"angle":270,"dy":-75,"color":"#333"},"encoding":{"x":{"field":"px","type":"quantitative","axis":null},"y":{"field":"py","type":"quantitative","axis":null},"text":{"field":"t"}}}
],"resolve":{"scale":{"x":"shared","y":"shared"}}}
],"resolve":{"scale":{"fill":"independent","stroke":"independent"}}}
